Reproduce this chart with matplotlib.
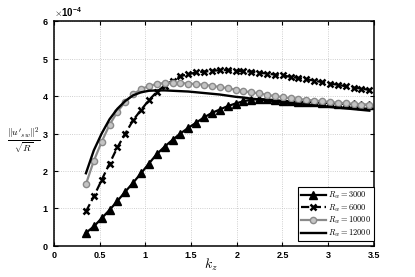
import matplotlib
matplotlib.use("Agg")
import matplotlib.pyplot as plt
from matplotlib.ticker import ScalarFormatter

plt.rcParams['mathtext.fontset'] = 'cm'
plt.rcParams['font.family'] = ['Liberation Sans', 'DejaVu Sans']

# wavenumber k_z
kz = [0.35, 0.436, 0.522, 0.608, 0.694, 0.781, 0.867, 0.953, 1.039, 1.125,
      1.211, 1.297, 1.383, 1.469, 1.556, 1.642, 1.728, 1.814, 1.9, 1.986,
      2.072, 2.158, 2.244, 2.331, 2.417, 2.503, 2.589, 2.675, 2.761, 2.847,
      2.933, 3.019, 3.106, 3.192, 3.278, 3.364, 3.45]

# ||u'_sw||^2 / sqrt(R), in units of 1e-4
rw3000 = [0.35, 0.52, 0.74, 0.96, 1.20, 1.45, 1.69, 1.94, 2.20, 2.45,
          2.65, 2.83, 3.00, 3.15, 3.29, 3.43, 3.55, 3.64, 3.73, 3.80,
          3.86, 3.90, 3.92, 3.91, 3.89, 3.87, 3.86, 3.85, 3.84, 3.83,
          3.82, 3.81, 3.80, 3.79, 3.78, 3.77, 3.76]
rw6000 = [0.92, 1.32, 1.76, 2.20, 2.63, 3.00, 3.36, 3.63, 3.89, 4.11,
          4.28, 4.41, 4.53, 4.58, 4.63, 4.65, 4.67, 4.69, 4.69, 4.67,
          4.66, 4.65, 4.62, 4.60, 4.57, 4.55, 4.51, 4.48, 4.45, 4.41,
          4.37, 4.33, 4.30, 4.26, 4.22, 4.20, 4.16]
rw10000 = [1.65, 2.27, 2.78, 3.23, 3.58, 3.85, 4.05, 4.18, 4.27, 4.32,
           4.35, 4.36, 4.35, 4.33, 4.32, 4.30, 4.27, 4.24, 4.21, 4.17,
           4.13, 4.10, 4.07, 4.03, 4.00, 3.97, 3.94, 3.92, 3.90, 3.88,
           3.86, 3.84, 3.82, 3.81, 3.79, 3.77, 3.76]
rw12000 = [1.94, 2.55, 3.00, 3.38, 3.66, 3.87, 4.02, 4.10, 4.14, 4.15,
           4.15, 4.14, 4.13, 4.12, 4.10, 4.08, 4.06, 4.04, 4.01, 3.98,
           3.96, 3.93, 3.91, 3.88, 3.86, 3.83, 3.81, 3.79, 3.77, 3.75,
           3.73, 3.71, 3.69, 3.67, 3.65, 3.63, 3.61]

scale = 1e-4

fig = plt.figure(figsize=(4.15, 2.77), dpi=100)
ax = fig.add_axes([0.130, 0.112, 0.771, 0.812])

ax.plot(kz, [v * scale for v in rw3000], '-^', color='black', lw=1.6,
        ms=5.5, label=r'$R_w = 3000$')
ax.plot(kz, [v * scale for v in rw6000], '--x', color='black', lw=1.6,
        ms=4.5, mew=1.8, label=r'$R_w = 6000$')
ax.plot(kz, [v * scale for v in rw10000], '-o', color='#8a8a8a', lw=1.6,
        ms=4.5, mfc='#c4c4c4', mec='#8a8a8a', mew=1.0, label=r'$R_w = 10000$')
ax.plot(kz, [v * scale for v in rw12000], '-', color='black', lw=1.7,
        label=r'$R_w = 12000$')

ax.set_xlim(0, 3.5)
ax.set_ylim(0, 6e-4)
ax.set_xticks([0, 0.5, 1, 1.5, 2, 2.5, 3, 3.5])
ax.set_xticklabels(['0', '0.5', '1', '1.5', '2', '2.5', '3', '3.5'])
fmt = ScalarFormatter(useMathText=True)
fmt.set_powerlimits((0, 0))
ax.yaxis.set_major_formatter(fmt)
ax.yaxis.get_offset_text().set_fontsize(7)
ax.yaxis.get_offset_text().set_fontweight('bold')

ax.grid(True, linestyle=':', color='#c0c0c0', lw=0.6)
ax.tick_params(direction='in', top=True, right=True, labelsize=6.5,
               length=3, width=0.8)
for lab in ax.get_xticklabels() + ax.get_yticklabels():
    lab.set_fontweight('bold')
for s in ax.spines.values():
    s.set_linewidth(1.1)

ax.set_xlabel(r'$k_z$', fontsize=10, va='center')
ax.xaxis.set_label_coords(0.49, -0.085)
ax.set_ylabel(r"$\frac{\|u'_{sw}\|^2}{\sqrt{R}}$", fontsize=10, rotation=0,
              va='center')
ax.yaxis.set_label_coords(-0.095, 0.47)

leg = ax.legend(loc='lower right', bbox_to_anchor=(1.0, 0.02), borderaxespad=0,
                fontsize=6, handlelength=3, handletextpad=0.3,
                borderpad=0.3, labelspacing=0.15, fancybox=False,
                framealpha=1, edgecolor='black')
leg.get_frame().set_linewidth(0.8)

fig.savefig('out.png', dpi=100)
